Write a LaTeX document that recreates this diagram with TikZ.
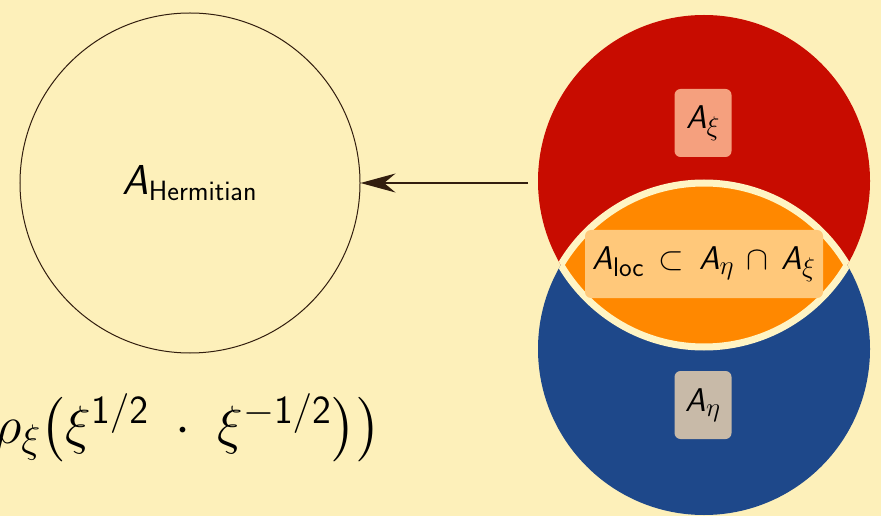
\RequirePackage{fix-cm}
\documentclass[tikz,border=0pt]{standalone}
\usepackage{amsmath,amssymb}
\usetikzlibrary{arrows.meta,positioning}
\definecolor{paper}{RGB}{253,240,186}
\definecolor{rim}{RGB}{255,244,196}
\definecolor{setred}{RGB}{200,12,0}
\definecolor{setblue}{RGB}{30,72,138}
\definecolor{lensorange}{RGB}{255,136,0}
\definecolor{boxsalmon}{RGB}{245,160,126}
\definecolor{boxtaupe}{RGB}{200,186,168}
\definecolor{boxpeach}{RGB}{255,200,122}
\definecolor{inkbrown}{RGB}{50,30,15}
\DeclareMathSizes{33}{33}{27}{20}
\DeclareMathSizes{42}{42}{28}{20}
\DeclareMathSizes{54}{54}{40}{30}
\newcommand{\SA}{\text{\sffamily\itshape A}}

\begin{document}
\begin{tikzpicture}[x=1bp,y=-1bp,
  setc/.style={circle, inner sep=0pt, minimum size=332bp},
  tag/.style={rounded corners=6bp, inner sep=0pt, minimum height=68bp,
              font=\fontsize{33}{36}\selectfont},
  ar/.style={-{Stealth[length=35bp,width=19bp]}, line width=1.3bp, inkbrown},
]
  \useasboundingbox (0,0) rectangle (881,516);
  \fill[paper] (0,0) rectangle (881,516);
  \clip (0,0) rectangle (881,516);
  % hermitian set
  \node[circle, draw=inkbrown, line width=1bp, minimum size=340bp, inner sep=0pt,
        font=\fontsize{42}{46}\selectfont] (herm) at (190,183) {$\SA_{\mathsf{Hermitian}}$};
  % two overlapping sets
  \node[setc, fill=setred] (axi) at (704,181) {};
  \node[setc, fill=setblue] (aeta) at (704,349) {};
  \begin{scope}
    \clip (704,181) circle[radius=166];
    \fill[lensorange] (704,349) circle[radius=166];
    \draw[rim, line width=7bp] (704,349) circle[radius=166];
  \end{scope}
  \begin{scope}
    \clip (704,349) circle[radius=166];
    \draw[rim, line width=7bp] (704,181) circle[radius=166];
  \end{scope}
  \node[tag, fill=boxsalmon, minimum width=57bp] (txi) at (703,123) {$\SA_\xi$};
  \node[tag, fill=boxtaupe, minimum width=57bp] (teta) at (703,405) {$\SA_\eta$};
  \node[tag, fill=boxpeach, minimum width=238bp]
    (tloc) at (704,264) {$\SA_{\mathsf{loc}}\,\subset\,\SA_\eta\,\cap\,\SA_\xi$};
  % map
  \coordinate (src) at (528,183);
  \draw[ar] (src) -- (herm);
  % formula, cut at the left edge
  \node[anchor=base east, inner sep=0pt, font=\fontsize{54}{58}\selectfont] (formula)
    at (381,443) {$\rho_\xi\bigl(\xi^{\mathsf{1/2}}\;\cdot\;\xi^{-\mathsf{1/2}}\bigr)\bigr)$};
\end{tikzpicture}
\end{document}
